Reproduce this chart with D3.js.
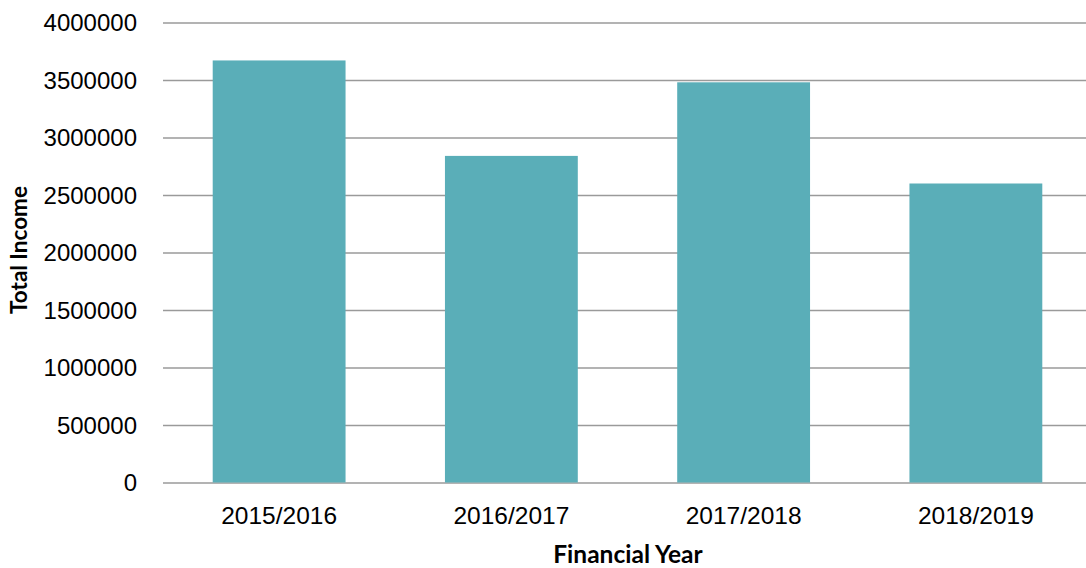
<!DOCTYPE html>
<html>
<head>
<meta charset="utf-8">
<script src="https://cdn.jsdelivr.net/npm/d3@7"></script>
<style>
  html, body { margin: 0; padding: 0; background: #fff; }
  svg { display: block; font-family: Lato, "Open Sans", sans-serif; }
</style>
</head>
<body>
<svg id="chart" width="1086" height="568"></svg>
<script>
// Total income per financial year
const categories = ["2015/2016", "2016/2017", "2017/2018", "2018/2019"];
const income = [3670000, 2840000, 3480000, 2600000];
const yTicks = [0, 500000, 1000000, 1500000, 2000000, 2500000, 3000000, 3500000, 4000000];

const svg = d3.select("#chart");
const plot = { left: 163, right: 1092, top: 22.5, bottom: 482.5 };

const x = d3.scaleBand()
  .domain(categories)
  .range([plot.left, plot.right])
  .paddingInner(0.428)
  .paddingOuter(0.214);

const y = d3.scaleLinear()
  .domain([0, 4000000])
  .range([plot.bottom, plot.top]);

// Horizontal gridlines with value labels
const yAxis = d3.axisLeft(y)
  .tickValues(yTicks)
  .tickFormat(d3.format("d"))
  .tickSize(-(plot.right - plot.left))
  .tickPadding(26);

const gy = svg.append("g")
  .attr("transform", `translate(${plot.left},0)`)
  .call(yAxis);
gy.select(".domain").remove();
gy.selectAll(".tick line")
  .attr("stroke", "#9a9a9a")
  .attr("stroke-width", 1.6);
gy.selectAll(".tick text")
  .attr("fill", "#000")
  .attr("font-size", 24)
  .attr("dy", "0.34em");

// Bars
svg.append("g")
  .selectAll("rect")
  .data(income)
  .join("rect")
  .attr("x", (d, i) => x(categories[i]))
  .attr("y", d => y(d))
  .attr("width", x.bandwidth())
  .attr("height", d => y(0) - y(d))
  .attr("fill", "#5aaeb8");

// Category labels
const xAxis = d3.axisBottom(x).tickSize(0).tickPadding(24);
const gx = svg.append("g")
  .attr("transform", `translate(0,${plot.bottom})`)
  .call(xAxis);
gx.select(".domain").remove();
gx.selectAll(".tick text")
  .attr("fill", "#000")
  .attr("font-size", 24.5)
  .attr("dy", "0.71em");

// Axis titles
svg.append("text")
  .attr("x", 628)
  .attr("y", 563)
  .attr("text-anchor", "middle")
  .attr("font-weight", "bold")
  .attr("font-size", 24.5)
  .text("Financial Year");

svg.append("text")
  .attr("transform", "translate(27,250) rotate(-90)")
  .attr("text-anchor", "middle")
  .attr("font-weight", "bold")
  .attr("font-size", 22.5)
  .text("Total Income");
</script>
</body>
</html>
